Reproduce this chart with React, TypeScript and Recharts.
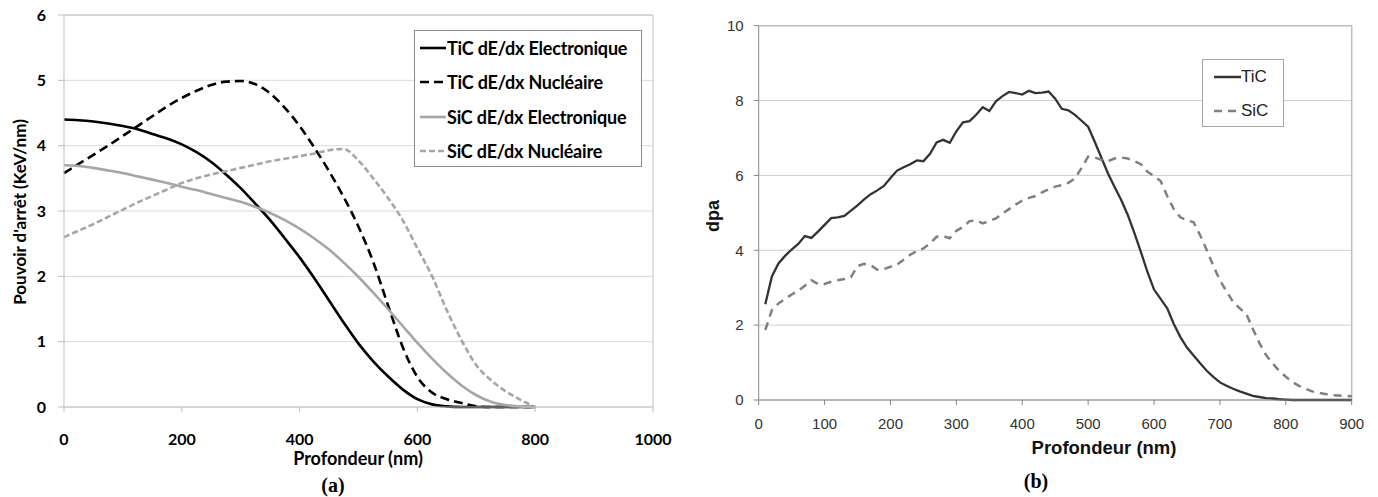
import React from 'react';
import { LineChart, Line, XAxis, YAxis, CartesianGrid, ReferenceLine } from 'recharts';

// ---------- Chart (a) data ----------
const depthA = [0, 25, 50, 75, 100, 125, 150, 175, 200, 225, 250, 275, 300, 325, 350, 375, 400, 425, 450, 475, 500, 525, 550, 575, 600, 625, 650, 675, 700, 725, 750, 775, 800];
const ticElec = [4.40, 4.39, 4.37, 4.34, 4.30, 4.25, 4.18, 4.11, 4.02, 3.90, 3.75, 3.56, 3.35, 3.11, 2.86, 2.58, 2.29, 1.97, 1.63, 1.29, 0.97, 0.70, 0.47, 0.27, 0.12, 0.04, 0.01, 0, 0, 0, 0, 0, 0];
const ticNucl = [3.58, 3.72, 3.86, 4.00, 4.15, 4.30, 4.45, 4.60, 4.73, 4.84, 4.93, 4.98, 4.99, 4.94, 4.80, 4.58, 4.30, 3.97, 3.61, 3.21, 2.76, 2.22, 1.56, 0.92, 0.46, 0.22, 0.12, 0.06, 0.01, 0, 0, 0, 0];
const sicElec = [3.70, 3.69, 3.66, 3.62, 3.58, 3.53, 3.48, 3.43, 3.37, 3.32, 3.26, 3.20, 3.14, 3.06, 2.97, 2.86, 2.73, 2.58, 2.41, 2.21, 1.99, 1.75, 1.50, 1.24, 0.98, 0.74, 0.52, 0.33, 0.18, 0.08, 0.03, 0.01, 0.0];
const sicNucl = [2.60, 2.70, 2.80, 2.91, 3.02, 3.13, 3.23, 3.33, 3.43, 3.50, 3.56, 3.61, 3.66, 3.71, 3.76, 3.80, 3.84, 3.88, 3.93, 3.95, 3.77, 3.50, 3.20, 2.86, 2.43, 2.00, 1.48, 1.02, 0.64, 0.41, 0.24, 0.11, 0.0];
const xTicksA = [0, 200, 400, 600, 800, 1000];
const yTicksA = [0, 1, 2, 3, 4, 5, 6];
const seriesNamesA = ['TiC dE/dx Electronique', 'TiC dE/dx Nucléaire', 'SiC dE/dx Electronique', 'SiC dE/dx Nucléaire'];

// ---------- Chart (b) data ----------
const depthB = [10, 20, 30, 40, 50, 60, 70, 80, 90, 100, 110, 120, 130, 140, 150, 160, 170, 180, 190, 200, 210, 220, 230, 240, 250, 260, 270, 280, 290, 300, 310, 320, 330, 340, 350, 360, 370, 380, 390, 400, 410, 420, 430, 440, 450, 460, 470, 480, 490, 500, 510, 520, 530, 540, 550, 560, 570, 580, 590, 600, 610, 620, 630, 640, 650, 660, 670, 680, 690, 700, 710, 720, 730, 740, 750, 760, 770, 780, 790, 800, 810, 820, 830, 840, 850, 860, 870, 880, 890, 900];
const ticDpa = [2.56, 3.3, 3.65, 3.85, 4.02, 4.17, 4.38, 4.33, 4.5, 4.68, 4.86, 4.88, 4.92, 5.06, 5.2, 5.36, 5.5, 5.6, 5.72, 5.93, 6.13, 6.22, 6.3, 6.4, 6.38, 6.58, 6.88, 6.95, 6.87, 7.18, 7.42, 7.45, 7.62, 7.82, 7.72, 7.98, 8.12, 8.23, 8.2, 8.16, 8.26, 8.2, 8.21, 8.24, 8.05, 7.78, 7.74, 7.62, 7.46, 7.3, 6.9, 6.48, 6.06, 5.7, 5.35, 4.95, 4.47, 3.96, 3.42, 2.95, 2.7, 2.45, 2.03, 1.68, 1.4, 1.19, 0.98, 0.78, 0.62, 0.47, 0.38, 0.3, 0.23, 0.17, 0.11, 0.08, 0.05, 0.04, 0.02, 0.01, 0, 0, 0, 0, 0, 0, 0, 0, 0, 0];
const sicDpa = [1.87, 2.4, 2.58, 2.7, 2.82, 2.92, 3.05, 3.2, 3.1, 3.1, 3.16, 3.2, 3.23, 3.28, 3.58, 3.64, 3.6, 3.48, 3.5, 3.56, 3.62, 3.75, 3.88, 3.98, 4.05, 4.18, 4.36, 4.38, 4.32, 4.52, 4.62, 4.78, 4.8, 4.72, 4.78, 4.85, 4.98, 5.1, 5.22, 5.33, 5.4, 5.45, 5.55, 5.63, 5.7, 5.74, 5.8, 5.92, 6.2, 6.5, 6.48, 6.42, 6.38, 6.45, 6.48, 6.45, 6.38, 6.3, 6.1, 5.98, 5.85, 5.45, 5.1, 4.88, 4.8, 4.75, 4.4, 4.01, 3.58, 3.2, 2.9, 2.62, 2.45, 2.3, 1.9, 1.52, 1.2, 0.98, 0.78, 0.62, 0.48, 0.38, 0.3, 0.23, 0.19, 0.16, 0.13, 0.12, 0.11, 0.1];
const xTicksB = [0, 100, 200, 300, 400, 500, 600, 700, 800, 900];
const yTicksB = [0, 2, 4, 6, 8, 10];
const seriesNamesB = ['TiC', 'SiC'];

const dataA = depthA.map((d, i) => ({ depth: d, ticE: ticElec[i], ticN: ticNucl[i], sicE: sicElec[i], sicN: sicNucl[i] }));
const dataB = depthB.map((d, i) => ({ depth: d, tic: ticDpa[i], sic: sicDpa[i] }));

const FONT_A = 'Lato, "Noto Sans", sans-serif';
const FONT_B = '"Liberation Sans", Arial, sans-serif';

const styleA = [
  { color: '#000', dash: undefined as string | undefined },
  { color: '#000', dash: '9 5' },
  { color: '#a6a6a6', dash: undefined },
  { color: '#a6a6a6', dash: '6 3' },
];
const styleB = [
  { color: '#333', dash: undefined as string | undefined, w: 2.3 },
  { color: '#808080', dash: '8 6', w: 2.5 },
];

export default function App() {
  return (
    <div style={{ position: 'absolute', left: 0, top: 0, width: 1378, height: 497, background: '#fff', overflow: 'hidden' }}>
      {/* Chart (a) */}
      <div style={{ position: 'absolute', left: 0, top: 0 }}>
        <LineChart width={680} height={470} data={dataA} margin={{ top: 15, right: 27, bottom: 33, left: 0 }}>
          <CartesianGrid vertical={false} stroke="#d9d9d9" />
          <XAxis dataKey="depth" type="number" domain={[0, 1000]} ticks={xTicksA} height={30} tickSize={5} tickMargin={22}
            stroke="#bfbfbf" tick={{ fill: '#000', fontSize: 16, fontWeight: 700, fontFamily: FONT_A }} />
          <YAxis type="number" domain={[0, 6]} ticks={yTicksA} width={64} tickSize={6} tickMargin={12}
            stroke="#bfbfbf" tick={{ fill: '#000', fontSize: 16, fontWeight: 700, fontFamily: FONT_A }} />
          <ReferenceLine y={6} stroke="#bfbfbf" />
          <ReferenceLine x={1000} stroke="#bfbfbf" />
          <Line name={seriesNamesA[0]} dataKey="ticE" type="monotone" stroke={styleA[0].color} strokeWidth={2.6} dot={false} isAnimationActive={false} />
          <Line name={seriesNamesA[1]} dataKey="ticN" type="monotone" stroke={styleA[1].color} strokeWidth={2.6} strokeDasharray={styleA[1].dash} dot={false} isAnimationActive={false} />
          <Line name={seriesNamesA[2]} dataKey="sicE" type="monotone" stroke={styleA[2].color} strokeWidth={2.6} dot={false} isAnimationActive={false} />
          <Line name={seriesNamesA[3]} dataKey="sicN" type="monotone" stroke={styleA[3].color} strokeWidth={2.6} strokeDasharray={styleA[3].dash} dot={false} isAnimationActive={false} />
        </LineChart>
      </div>
      {/* Legend (a) */}
      <div style={{ position: 'absolute', left: 414, top: 30, width: 226, height: 135, border: '1px solid #8c8c8c', background: '#fff', fontFamily: FONT_A, fontWeight: 700, fontSize: 18, color: '#000' }}>
        {seriesNamesA.map((name, i) => (
          <div key={i} style={{ position: 'absolute', left: 5, top: 5.7 + i * 34.5, height: 22, display: 'flex', alignItems: 'center', whiteSpace: 'nowrap' }}>
            <svg width={26} height={22} style={{ display: 'block' }}>
              <line x1={0} y1={11} x2={26} y2={11} stroke={styleA[i].color} strokeWidth={2.6} strokeDasharray={styleA[i].dash} />
            </svg>
            <span style={{ marginLeft: 1, letterSpacing: -0.2 }}>{name}</span>
          </div>
        ))}
      </div>
      <div style={{ position: 'absolute', left: 18.5, top: 212, transform: 'translate(-50%, -50%) rotate(-90deg)', whiteSpace: 'nowrap', fontFamily: FONT_A, fontWeight: 700, fontSize: 17, color: '#000' }}>
        Pouvoir d'arrêt (KeV/nm)
      </div>
      <div style={{ position: 'absolute', left: 358, top: 458, transform: 'translate(-50%, -50%)', whiteSpace: 'nowrap', fontFamily: FONT_A, fontWeight: 700, fontSize: 18, color: '#000' }}>
        Profondeur (nm)
      </div>
      <div style={{ position: 'absolute', left: 333, top: 485, transform: 'translate(-50%, -50%)', whiteSpace: 'nowrap', fontFamily: '"Liberation Serif", "Times New Roman", serif', fontWeight: 700, fontSize: 20, color: '#000' }}>
        (a)
      </div>

      {/* Chart (b) */}
      <div style={{ position: 'absolute', left: 690, top: 0 }}>
        <LineChart width={688} height={470} data={dataB} margin={{ top: 25.7, right: 26.3, bottom: 40, left: 0 }}>
          <CartesianGrid vertical={false} stroke="#cfcfcf" />
          <XAxis dataKey="depth" type="number" domain={[0, 900]} ticks={xTicksB} height={30} tickSize={5} tickMargin={13}
            stroke="#868686" tick={{ fill: '#333', fontSize: 15, fontFamily: FONT_B }} />
          <YAxis type="number" domain={[0, 10]} ticks={yTicksB} width={68.7} tickSize={5} tickMargin={10}
            stroke="#868686" tick={{ fill: '#333', fontSize: 15, fontFamily: FONT_B }} />
          <ReferenceLine y={10} stroke="#bdbdbd" strokeWidth={1.5} />
          <ReferenceLine x={900} stroke="#bdbdbd" strokeWidth={1.5} />
          <Line name={seriesNamesB[0]} dataKey="tic" type="linear" stroke={styleB[0].color} strokeWidth={styleB[0].w} dot={false} isAnimationActive={false} />
          <Line name={seriesNamesB[1]} dataKey="sic" type="linear" stroke={styleB[1].color} strokeWidth={styleB[1].w} strokeDasharray={styleB[1].dash} dot={false} isAnimationActive={false} />
        </LineChart>
      </div>
      {/* Legend (b) */}
      <div style={{ position: 'absolute', left: 1202, top: 59, width: 80, height: 66, border: '1px solid #a6a6a6', background: '#fff', fontFamily: FONT_B, fontSize: 17, color: '#222' }}>
        {seriesNamesB.map((name, i) => (
          <div key={i} style={{ position: 'absolute', left: 11, top: 6 + i * 33.5, height: 22, display: 'flex', alignItems: 'center', whiteSpace: 'nowrap' }}>
            <svg width={27} height={22} style={{ display: 'block' }}>
              <line x1={0} y1={11} x2={27} y2={11} stroke={styleB[i].color} strokeWidth={2.5} strokeDasharray={styleB[i].dash} />
            </svg>
            <span>{name}</span>
          </div>
        ))}
      </div>
      <div style={{ position: 'absolute', left: 713, top: 216, transform: 'translate(-50%, -50%) rotate(-90deg)', whiteSpace: 'nowrap', fontFamily: FONT_B, fontWeight: 700, fontSize: 18, color: '#111' }}>
        dpa
      </div>
      <div style={{ position: 'absolute', left: 1104, top: 448, transform: 'translate(-50%, -50%)', whiteSpace: 'nowrap', fontFamily: FONT_B, fontWeight: 700, fontSize: 18.5, color: '#111' }}>
        Profondeur (nm)
      </div>
      <div style={{ position: 'absolute', left: 1036, top: 481, transform: 'translate(-50%, -50%)', whiteSpace: 'nowrap', fontFamily: '"Liberation Serif", "Times New Roman", serif', fontWeight: 700, fontSize: 20, color: '#000' }}>
        (b)
      </div>
    </div>
  );
}
